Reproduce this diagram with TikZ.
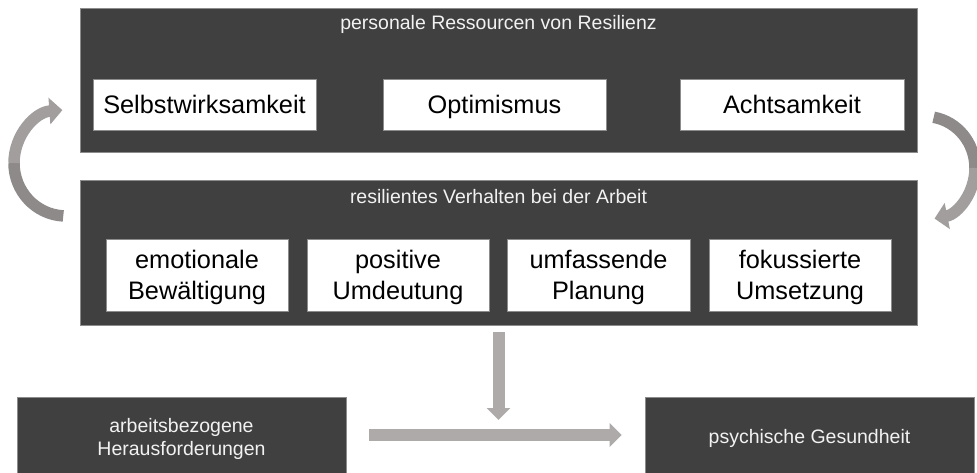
\documentclass[tikz,border=0pt]{standalone}
\usepackage{fontspec}
\setmainfont{Liberation Sans}
\usetikzlibrary{arrows.meta,calc}
\definecolor{panelgray}{HTML}{404040}
\definecolor{panelline}{HTML}{8C8C8C}
\definecolor{arrlight}{HTML}{AEAAAA}
\definecolor{arrmid}{HTML}{A29E9E}
\definecolor{arrdark}{HTML}{8E8A8A}
\definecolor{txtlight}{HTML}{F2F2F2}
\newcommand{\topstrut}[1]{\rule{0pt}{#1}}
\tikzset{
  panel/.style={fill=panelgray, draw=panelline, line width=0.6pt, inner sep=0pt},
  paneltitle/.style={inner sep=0pt, text=txtlight, font=\fontsize{19.5}{23.4}\selectfont, align=center,
    text height=14pt, text depth=0pt},
  itembox/.style={fill=white, draw=panelline, line width=0.4pt, inner sep=0pt, text=black,
    font=\fontsize{25.3}{31}\selectfont, align=center},
  oneline/.style={text height=18.1pt, text depth=0pt},
  bigarrow/.style={draw=arrlight, line width=12pt, -{Triangle[width=23pt,length=12pt]}},
  curvearrow/.style={line width=11.5pt},
}
\begin{document}
\begin{tikzpicture}[x=1pt,y=-1pt]
\useasboundingbox (0,0) rectangle (977,472);

% top panel
\node[panel, minimum width=837pt, minimum height=144pt] (top) at (498.5,80) {};
\node[paneltitle] (toptitle) at (498.5,22) {personale Ressourcen von Resilienz};
\node[itembox, oneline, minimum width=223pt, minimum height=51pt] (selbst) at (204.5,104.5) {Selbstwirksamkeit};
\node[itembox, oneline, minimum width=223pt, minimum height=51pt] (opti) at (494.5,104.5) {Optimismus};
\node[itembox, oneline, minimum width=224pt, minimum height=51pt] (acht) at (792,104.5) {Achtsamkeit};

% second panel
\node[panel, minimum width=837pt, minimum height=145pt] (mid) at (498.5,252.5) {};
\node[paneltitle] (midtitle) at (498.5,196) {resilientes Verhalten bei der Arbeit};
\node[itembox, minimum width=182pt, minimum height=72pt] (emo) at (197,275) {\topstrut{22.5pt}emotionale\\Bewältigung};
\node[itembox, minimum width=182pt, minimum height=72pt] (posi) at (398,275) {\topstrut{22.5pt}positive\\Umdeutung};
\node[itembox, minimum width=183pt, minimum height=72pt] (umf) at (598.5,275) {\topstrut{22.5pt}umfassende\\Planung};
\node[itembox, minimum width=182pt, minimum height=72pt] (fok) at (800,275) {\topstrut{22.5pt}fokussierte\\Umsetzung};

% bottom boxes
\node[panel, minimum width=329pt, minimum height=79pt, text=txtlight,
      font=\fontsize{19.5}{23.4}\selectfont, align=center] (herausf) at (181.5,436.5) {\topstrut{19pt}arbeitsbezogene\\Herausforderungen};
\node[panel, minimum width=329pt, minimum height=79pt, text=txtlight, text height=14pt, text depth=0pt,
      font=\fontsize{19.5}{23.4}\selectfont, align=center] (gesund) at (809.5,436.5) {psychische Gesundheit};

% straight arrows
\draw[bigarrow, shorten <=7pt, shorten >=16.5pt] (mid.south) -- (mid.south |- herausf.east);
\draw[bigarrow, shorten <=23pt, shorten >=23pt] ([yshift=1.5pt]herausf.east) -- ([yshift=1.5pt]gesund.west);

% left curved arrow (from mid panel back up to top panel)
\coordinate (lc) at (66,163);
\draw[curvearrow, draw=arrdark] ($(lc)+(93:52 and 53)$) arc[start angle=93, end angle=180, x radius=52, y radius=53];
\draw[curvearrow, draw=arrmid, -{Triangle[width=26pt,length=13pt]}]
  ($(lc)+(180:52 and 53)$) arc[start angle=180, end angle=266, x radius=52, y radius=53];

% right curved arrow (from top panel down to mid panel)
\coordinate (rc) at (925,168);
\draw[curvearrow, draw=arrdark] ($(rc)+(280:50 and 51.5)$) arc[start angle=280, end angle=360, x radius=50, y radius=51.5];
\draw[curvearrow, draw=arrmid, -{Triangle[width=26pt,length=13pt]}]
  ($(rc)+(0:50 and 51.5)$) arc[start angle=0, end angle=79, x radius=50, y radius=51.5];
\end{tikzpicture}
\end{document}
